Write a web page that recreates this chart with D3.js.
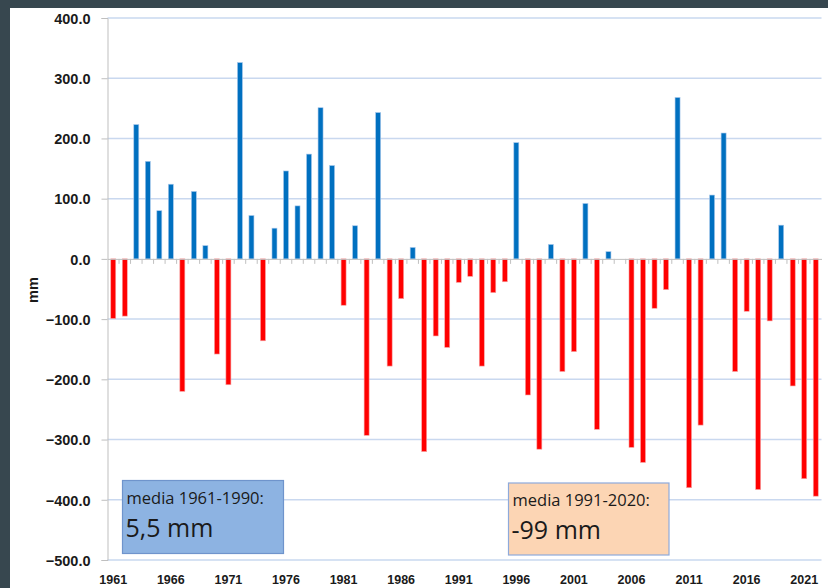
<!DOCTYPE html>
<html>
<head>
<meta charset="utf-8">
<script src="https://cdn.jsdelivr.net/npm/d3@7"></script>
<style>
  html, body { margin: 0; padding: 0; background: #37474f; }
  #chart { position: absolute; left: 0; top: 0; }
  .ylab { font-family: "Liberation Sans", Arial, sans-serif; font-weight: bold; font-size: 14.5px; fill: #1a1a1a; }
  .xlab { font-family: "Liberation Sans", Arial, sans-serif; font-weight: bold; font-size: 12.5px; fill: #1a1a1a; }
  .boxtxt { font-family: "Open Sans", "Noto Sans", sans-serif; fill: #1a1a1a; }
</style>
</head>
<body>
<div id="chart"></div>
<script>
// anomalies, mm
var years = d3.range(1961, 2023);
var values = [
  -99, -95, 223, 162, 80, 124, -220, 112, 22, -158,
  -209, 326, 72, -136, 51, 146, 88, 174, 251, 155,
  -77, 55, -293, 243, -178, -66, 19, -320, -128, -147,
  -39, -29, -178, -56, -38, 193, -226, -316, 24, -187,
  -154, 92, -283, 12, 0, -313, -338, -82, -51, 268,
  -380, -276, 106, 209, -187, -87, -383, -103, 56, -211,
  -365, -394
];
var yTicks = [400, 300, 200, 100, 0, -100, -200, -300, -400, -500];
var xLabelYears = [1961, 1966, 1971, 1976, 1981, 1986, 1991, 1996, 2001, 2006, 2011, 2016, 2021];
var avgBoxes = [
  { title: "media 1961-1990:", value: "5,5 mm", fill: "#8db3e2", stroke: "#6f94cc" },
  { title: "media 1991-2020:", value: "-99 mm", fill: "#fcd5b4", stroke: "#8eaadb" }
];

var W = 828, H = 588;
var pLeft = 107.5, pRight = 821.5, pTop = 18, pBottom = 560;

var svg = d3.select("#chart").append("svg")
    .attr("width", W)
    .attr("height", H);

// white panel over the dark frame
svg.append("rect")
    .attr("x", 10).attr("y", 8)
    .attr("width", W - 10).attr("height", H - 8)
    .attr("fill", "#ffffff");

var x = d3.scaleBand().domain(years).range([pLeft, pRight]).padding(0);
var y = d3.scaleLinear().domain([-500, 400]).range([pBottom, pTop]);

// gridlines
svg.append("g")
    .selectAll("line").data(yTicks.filter(d => d !== 0)).enter().append("line")
    .attr("x1", pLeft).attr("x2", pRight)
    .attr("y1", d => y(d)).attr("y2", d => y(d))
    .attr("stroke", "#c9d8ef")
    .attr("stroke-width", 1.5);

// y axis
var yAxis = svg.append("g")
    .attr("transform", "translate(" + pLeft + ",0)")
    .call(d3.axisLeft(y).tickValues(yTicks).tickSize(6).tickPadding(11).tickFormat(d3.format(".1f")));
yAxis.select(".domain").attr("stroke", "#bfbfbf");
yAxis.selectAll(".tick line").attr("stroke", "#bfbfbf");
yAxis.selectAll(".tick text").attr("class", "ylab").attr("dy", "0.36em");

svg.append("text")
    .attr("class", "ylab")
    .attr("transform", "translate(38,290) rotate(-90)")
    .attr("text-anchor", "middle")
    .text("mm");

// bars
var bw = 5;
svg.append("g")
    .selectAll("rect").data(years).enter().append("rect")
    .attr("x", d => x(d) + x.bandwidth() / 2 - bw / 2)
    .attr("width", bw)
    .attr("y", (d, i) => y(Math.max(0, values[i])))
    .attr("height", (d, i) => Math.abs(y(values[i]) - y(0)))
    .attr("fill", (d, i) => values[i] >= 0 ? "#0070c0" : "#ff0000")
    .attr("stroke", (d, i) => values[i] >= 0 ? "#a8c8ec" : "#f7a6a6")
    .attr("stroke-width", 0.6);

// zero line with category ticks
var xAxis = svg.append("g")
    .attr("transform", "translate(0," + y(0) + ")")
    .call(d3.axisBottom(x).tickValues([]).tickSizeOuter(0));
xAxis.select(".domain").attr("stroke", "#bfbfbf");
svg.append("g")
    .selectAll("line").data(years.slice(1)).enter().append("line")
    .attr("x1", d => x(d)).attr("x2", d => x(d))
    .attr("y1", y(0)).attr("y2", y(0) + 5)
    .attr("stroke", "#c0c0c0");

// year labels at the bottom
svg.append("g")
    .selectAll("text").data(xLabelYears).enter().append("text")
    .attr("class", "xlab")
    .attr("x", d => x(d) + x.bandwidth() / 2)
    .attr("y", 584)
    .attr("text-anchor", "middle")
    .text(d => d);

// average boxes
var boxPos = [{ x: 122.5, y: 480.5, w: 161, h: 73 }, { x: 508.5, y: 483, w: 160.5, h: 72 }];
avgBoxes.forEach(function(b, i) {
  var p = boxPos[i];
  svg.append("rect")
      .attr("x", p.x).attr("y", p.y).attr("width", p.w).attr("height", p.h)
      .attr("fill", b.fill).attr("stroke", b.stroke).attr("stroke-width", 1.2);
  svg.append("text").attr("class", "boxtxt")
      .attr("x", p.x + 4).attr("y", p.y + 23)
      .style("font-size", "16.5px")
      .text(b.title);
  svg.append("text").attr("class", "boxtxt")
      .attr("x", p.x + 3).attr("y", p.y + 56)
      .style("font-size", "25px")
      .text(b.value);
});
</script>
</body>
</html>
